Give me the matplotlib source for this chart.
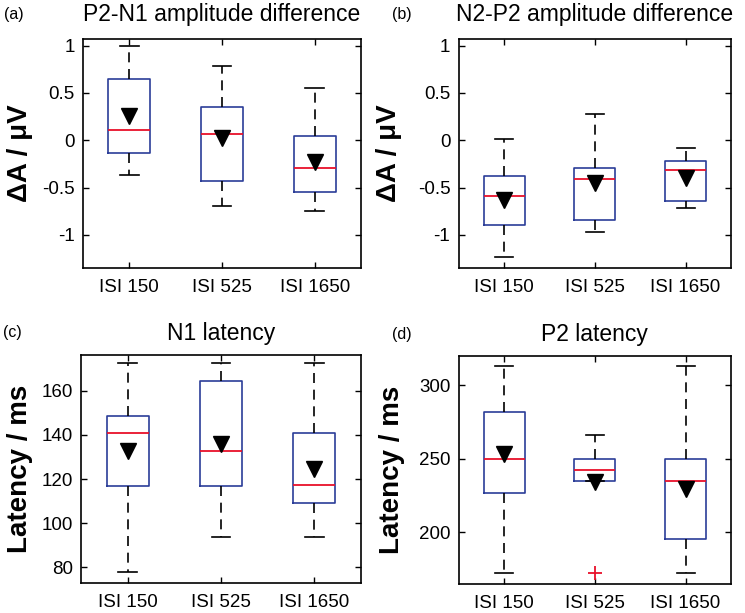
import numpy as np
import matplotlib
matplotlib.use('Agg')
import matplotlib.pyplot as plt

plt.rcParams['font.family'] = ['Liberation Sans', 'DejaVu Sans']

groups = ['ISI 150', 'ISI 525', 'ISI 1650']

# box stats: low whisker, q1, median, q3, high whisker, mean
a_low = [-0.37, -0.69, -0.75]
a_q1 = [-0.13, -0.43, -0.55]
a_med = [0.11, 0.07, -0.29]
a_q3 = [0.65, 0.35, 0.04]
a_high = [1.0, 0.78, 0.55]
a_mean = [0.26, 0.02, -0.23]

b_low = [-1.23, -0.97, -0.72]
b_q1 = [-0.90, -0.84, -0.64]
b_med = [-0.59, -0.41, -0.31]
b_q3 = [-0.38, -0.29, -0.22]
b_high = [0.01, 0.28, -0.08]
b_mean = [-0.63, -0.45, -0.40]

c_low = [78, 93.5, 93.5]
c_q1 = [117, 117, 109.3]
c_med = [140.8, 132.9, 117.2]
c_q3 = [148.7, 164.5, 140.8]
c_high = [172.6, 172.6, 172.6]
c_mean = [132.8, 136.0, 124.5]

d_low = [172.2, 234.8, 172.2]
d_q1 = [226.5, 234.8, 195.2]
d_med = [250, 242.3, 235.1]
d_q3 = [281.9, 250, 250]
d_high = [313.1, 266.1, 313.1]
d_mean = [253.2, 234.4, 229.2]
d_fliers = [[], [172.2], []]

panels = [
    dict(label='(a)', title='P2-N1 amplitude difference', ylabel='ΔA / μV',
         low=a_low, q1=a_q1, med=a_med, q3=a_q3, high=a_high, mean=a_mean,
         fliers=[[], [], []], ylim=(-1.35, 1.07), yticks=[-1, -0.5, 0, 0.5, 1],
         ytl=['-1', '-0.5', '0', '0.5', '1'],
         rect=[0.1114, 0.5628, 0.3732, 0.3736], tpad=13, lx=-0.18, ly=0.5,
         pl=(4, 15)),
    dict(label='(b)', title='N2-P2 amplitude difference', ylabel='ΔA / μV',
         low=b_low, q1=b_q1, med=b_med, q3=b_q3, high=b_high, mean=b_mean,
         fliers=[[], [], []], ylim=(-1.35, 1.07), yticks=[-1, -0.5, 0, 0.5, 1],
         ytl=['-1', '-0.5', '0', '0.5', '1'],
         rect=[0.6157, 0.5628, 0.3655, 0.3736], tpad=13, lx=-0.208, ly=0.5,
         pl=(392, 15)),
    dict(label='(c)', title='N1 latency', ylabel='Latency / ms',
         low=c_low, q1=c_q1, med=c_med, q3=c_q3, high=c_high, mean=c_mean,
         fliers=[[], [], []], ylim=(72.7, 176.3), yticks=[80, 100, 120, 140, 160],
         ytl=['80', '100', '120', '140', '160'],
         rect=[0.1087, 0.0485, 0.3758, 0.3725], tpad=10.5, lx=-0.171, ly=0.5,
         pl=(3, 333)),
    dict(label='(d)', title='P2 latency', ylabel='Latency / ms',
         low=d_low, q1=d_q1, med=d_med, q3=d_q3, high=d_high, mean=d_mean,
         fliers=d_fliers, ylim=(164.7, 319.7), yticks=[200, 250, 300],
         ytl=['200', '250', '300'],
         rect=[0.6157, 0.0468, 0.3655, 0.3724], tpad=10.5, lx=-0.197, ly=0.5,
         pl=(392, 334)),
]

box_col = '#2b3d98'

fig = plt.figure(figsize=(7.45, 6.13), dpi=100)

for p in panels:
    ax = fig.add_axes(p['rect'])
    stats = []
    for i in range(3):
        stats.append(dict(whislo=p['low'][i], q1=p['q1'][i], med=p['med'][i],
                          q3=p['q3'][i], whishi=p['high'][i], mean=p['mean'][i],
                          fliers=p['fliers'][i]))
    ax.bxp(stats, positions=[1, 2, 3], widths=0.45, capwidths=0.2,
           showmeans=True, showfliers=True,
           boxprops=dict(color=box_col, linewidth=1.2),
           whiskerprops=dict(color='black', linewidth=1.2, linestyle=(0, (6, 4))),
           capprops=dict(color='black', linewidth=1.2),
           medianprops=dict(color='#e8102a', linewidth=1.3),
           meanprops=dict(marker='v', markerfacecolor='black',
                          markeredgecolor='black', markersize=11),
           flierprops=dict(marker='+', markeredgecolor='#e8102a',
                           markersize=10, markeredgewidth=1.3))
    ax.set_xlim(0.5, 3.5)
    ax.set_ylim(*p['ylim'])
    ax.set_xticks([1, 2, 3])
    ax.set_xticklabels(groups)
    ax.set_yticks(p['yticks'])
    ax.set_yticklabels(p['ytl'])
    ax.tick_params(direction='in', top=True, right=True, length=4, width=1,
                   labelsize=13.5, colors='black')
    ax.tick_params(axis='x', pad=8)
    ax.tick_params(axis='y', pad=6)
    for s in ax.spines.values():
        s.set_linewidth(1.2)
    ax.set_title(p['title'], fontsize=16.5, pad=p['tpad'])
    ax.set_ylabel(p['ylabel'], fontsize=20, fontweight='bold')
    ax.yaxis.set_label_coords(p['lx'], p['ly'])
    fig.text(p['pl'][0] / 745, 1 - p['pl'][1] / 613, p['label'], fontsize=11.5,
             va='center', ha='left')

fig.savefig('out.png', dpi=100)
